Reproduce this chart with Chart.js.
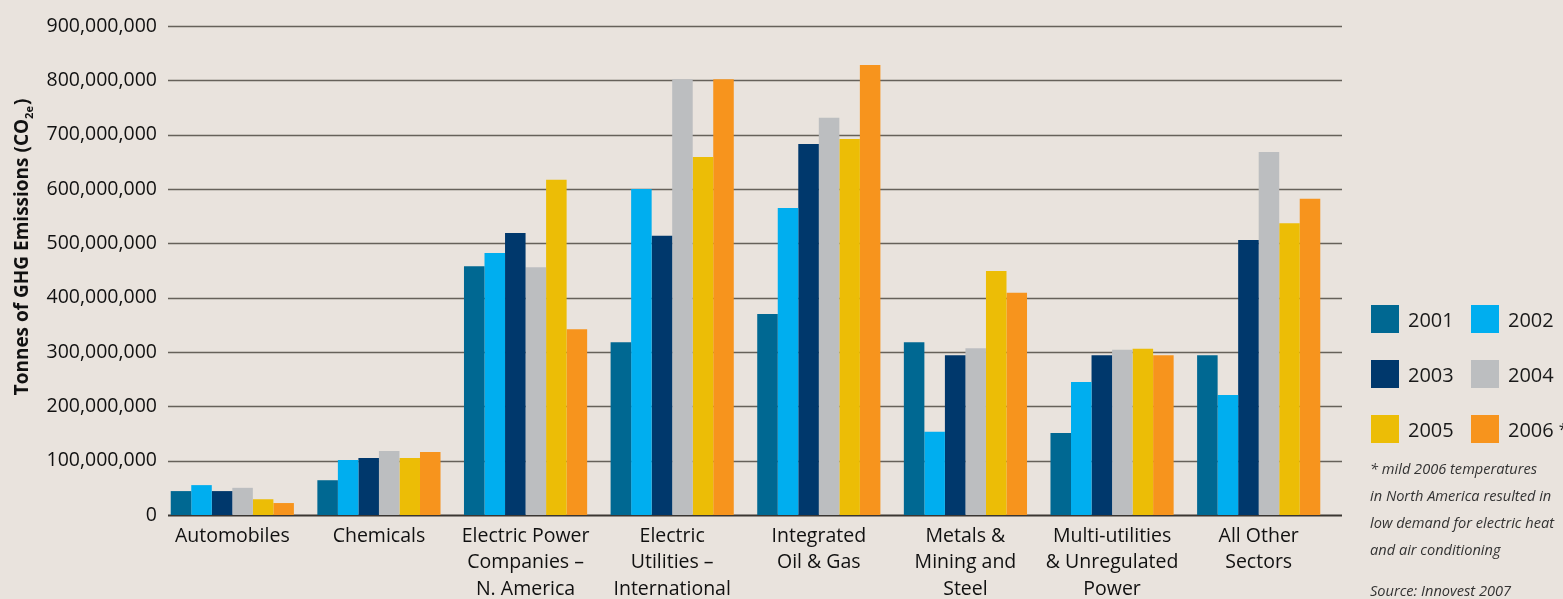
<!DOCTYPE html>
<html>
<head>
<meta charset="utf-8">
<script src="https://cdn.jsdelivr.net/npm/chart.js@4"></script>
<style>
  html, body { margin: 0; padding: 0; background: #e9e3dd; }
  #wrap { position: relative; width: 1563px; height: 599px; overflow: hidden; }
  #chart { position: absolute; left: 0; top: 0; }
  .legend { position: absolute; left: 1371px; top: 305px; font-family: "Open Sans", sans-serif; color: #1a1a1a; }
  .item { position: absolute; display: flex; align-items: center; font-size: 20px; white-space: nowrap; }
  .sw { width: 28px; height: 28px; margin-right: 9px; }
  .note { position: absolute; left: 1370px; top: 455px; font-family: "Open Sans", sans-serif; font-style: italic; font-size: 14.6px; line-height: 27px; color: #333; white-space: nowrap; }
  .src { position: absolute; left: 1370px; top: 580px; font-family: "Open Sans", sans-serif; font-style: italic; font-size: 14.6px; color: #333; white-space: nowrap; }
  sup.ast { font-size: 16px; vertical-align: 8px; margin-left: 5px; }
</style>
</head>
<body>
<div id="wrap">
  <canvas id="chart" width="1563" height="599"></canvas>
  <div class="legend" id="legend"></div>
  <div class="note">* mild 2006 temperatures<br>in North America resulted in<br>low demand for electric heat<br>and air conditioning</div>
  <div class="src">Source: Innovest 2007</div>
</div>
<script>
// ── Data ─────────────────────────────────────────────────────
const sectors = [
    ['Automobiles'],
    ['Chemicals'],
    ['Electric Power', 'Companies –', 'N. America'],
    ['Electric', 'Utilities –', 'International'],
    ['Integrated', 'Oil & Gas'],
    ['Metals &', 'Mining and', 'Steel'],
    ['Multi-utilities', '& Unregulated', 'Power'],
    ['All Other', 'Sectors']
];
const years = ['2001', '2002', '2003', '2004', '2005', '2006'];

const em2001 = [44e6, 64e6, 458e6, 318e6, 370e6, 318e6, 151e6, 294e6];
const em2002 = [55e6, 101e6, 482e6, 600e6, 565e6, 153e6, 245e6, 221e6];
const em2003 = [44e6, 105e6, 519e6, 514e6, 683e6, 294e6, 294e6, 506e6];
const em2004 = [50e6, 118e6, 456e6, 802e6, 731e6, 307e6, 304e6, 668e6];
const em2005 = [29e6, 105e6, 617e6, 659e6, 692e6, 449e6, 306e6, 537e6];
const em2006 = [22e6, 116e6, 342e6, 802e6, 828e6, 409e6, 294e6, 582e6];
const series = [em2001, em2002, em2003, em2004, em2005, em2006];

const yearColors = ['#006892', '#00aeef', '#00386c', '#bcbec0', '#ecbd06', '#f7941d'];

const FONT = "'Open Sans', sans-serif";

// ── Horizontal rules, a little wider than the bar area ───────
const gridRules = {
    id: 'gridRules',
    beforeDatasetsDraw(chart) {
        const { ctx, scales: { y } } = chart;
        ctx.save();
        y.ticks.forEach(t => {
            const py = Math.round(y.getPixelForValue(t.value)) + 0.5;
            ctx.beginPath();
            ctx.strokeStyle = t.value === 0 ? '#3a3632' : '#66615a';
            ctx.lineWidth = t.value === 0 ? 2 : 1.5;
            ctx.moveTo(168, py);
            ctx.lineTo(1342, py);
            ctx.stroke();
        });
        ctx.restore();
    }
};

// ── Rotated axis title with subscript ────────────────────────
const axisTitle = {
    id: 'axisTitle',
    afterDraw(chart) {
        const { ctx, chartArea } = chart;
        const cy = (chartArea.top + chartArea.bottom) / 2 - 23;
        ctx.save();
        ctx.translate(23, cy);
        ctx.rotate(-Math.PI / 2);
        ctx.fillStyle = '#111';
        ctx.textBaseline = 'middle';
        const main = 'Tonnes of GHG Emissions (CO';
        const sub = '2e';
        const end = ')';
        ctx.font = `bold 19px ${FONT}`;
        const wMain = ctx.measureText(main).width;
        const wEnd = ctx.measureText(end).width;
        ctx.font = `bold 11px ${FONT}`;
        const wSub = ctx.measureText(sub).width;
        let x = -(wMain + wSub + wEnd) / 2;
        ctx.textAlign = 'left';
        ctx.font = `bold 19px ${FONT}`;
        ctx.fillText(main, x, 0);
        x += wMain;
        ctx.font = `bold 11px ${FONT}`;
        ctx.fillText(sub, x, 7);
        x += wSub + 1;
        ctx.font = `bold 19px ${FONT}`;
        ctx.fillText(end, x, 0);
        ctx.restore();
    }
};

new Chart(document.getElementById('chart'), {
    type: 'bar',
    data: {
        labels: sectors,
        datasets: years.map((y, i) => ({
            label: y,
            data: series[i],
            backgroundColor: yearColors[i],
            borderWidth: 0,
            barPercentage: 1.0,
            categoryPercentage: 0.84
        }))
    },
    options: {
        responsive: false,
        animation: false,
        layout: { padding: { top: 26, right: 231, left: 0, bottom: 0 } },
        plugins: {
            legend: { display: false },
            tooltip: { enabled: false }
        },
        scales: {
            x: {
                grid: { display: false, drawTicks: false },
                border: { display: false },
                ticks: {
                    color: '#111',
                    padding: 8,
                    autoSkip: false,
                    maxRotation: 0,
                    font: { family: FONT, size: 19.5, lineHeight: 1.36 }
                },
                afterFit: s => { s.height = 84; }
            },
            y: {
                min: 0,
                max: 900000000,
                grid: { display: false, drawTicks: false },
                border: { display: false },
                ticks: {
                    stepSize: 100000000,
                    color: '#111',
                    padding: 2,
                    font: { family: FONT, size: 19.5 },
                    callback: v => v.toLocaleString('en-US')
                },
                afterFit: s => { s.width = 159; }
            }
        }
    },
    plugins: [gridRules, axisTitle]
});

// ── HTML legend (two columns) ────────────────────────────────
const legendEl = document.getElementById('legend');
years.forEach((y, i) => {
    const row = Math.floor(i / 2), col = i % 2;
    const el = document.createElement('div');
    el.className = 'item';
    el.style.left = (col * 100) + 'px';
    el.style.top = (row * 55) + 'px';
    el.innerHTML = `<span class="sw" style="background:${yearColors[i]}"></span>${y}` +
        (y === '2006' ? '<sup class="ast">*</sup>' : '');
    legendEl.appendChild(el);
});
</script>
</body>
</html>
